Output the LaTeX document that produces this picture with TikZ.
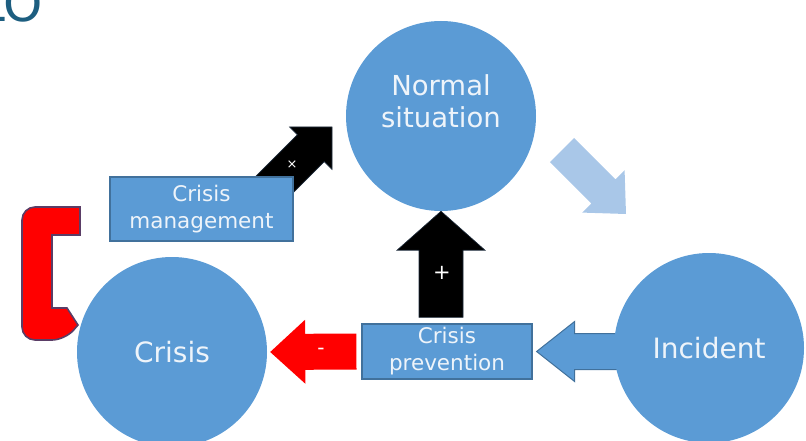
\documentclass[tikz,border=0pt]{standalone}
\usepackage{fontspec}
\setmainfont{DejaVu Sans}
\usetikzlibrary{calc,backgrounds}

\definecolor{bubbleblue}{HTML}{5B9BD5}
\definecolor{boxline}{HTML}{41719C}
\definecolor{paleblue}{HTML}{A9C7E8}
\definecolor{titleblue}{HTML}{1D5E80}
\definecolor{bracketline}{HTML}{5A3D66}
\definecolor{arrowedge}{HTML}{1F2D3D}
\definecolor{textwhite}{HTML}{EEF4FA}

% block arrow: style, tail, tip, half shaft, half head, head length
\newcommand{\blockarrow}[6]{%
  \coordinate (ba-base) at ($(#3)!#6!(#2)$);
  \filldraw[#1] ($(#2)!#4!90:(#3)$) -- ($(ba-base)!#4!90:(#3)$) -- ($(ba-base)!#5!90:(#3)$)
    -- (#3) -- ($(ba-base)!#5!-90:(#3)$) -- ($(ba-base)!#4!-90:(#3)$) -- ($(#2)!#4!-90:(#3)$) -- cycle;
}

\begin{document}
\begin{tikzpicture}[x=1pt,y=-1pt,
  bubble/.style={circle, fill=bubbleblue, minimum size=190pt, inner sep=0pt, text=textwhite, font=\fontsize{28}{32}\selectfont},
  bubbletext/.style={text=textwhite, align=center, inner sep=0pt, font=\fontsize{27.5}{32}\selectfont},
  box/.style={rectangle, fill=bubbleblue, draw=boxline, line width=1.2pt, inner sep=0pt, text=textwhite, align=center, font=\fontsize{21.5}{27}\selectfont},
  sign/.style={text=white, inner sep=0pt}]
\useasboundingbox (0,0) rectangle (806,441);
\node[text=titleblue, anchor=base east, inner sep=0pt, font=\fontsize{50}{50}\selectfont] (title) at (43,22) {LO}; %cut-off heading
\node[bubble] (normal) at (441,116) {}; %top circle
\node[bubbletext] (normaltext) at ([yshift=15pt]normal.center) {Normal\\situation};
\node[bubble] (crisis) at (172,352) {Crisis}; %left circle
\node[bubble] (incident) at (709,348) {Incident}; %right circle
\node[box, minimum width=183pt, minimum height=64pt] (management) at (201.5,209) {Crisis\\management};
\node[box, minimum width=170pt, minimum height=55pt] (prevention) at (447,351.5) {Crisis\\prevention};
% ends of the block arrows
\coordinate (uptail) at ($(normal.south |- prevention.north)+(0,-6)$);
\coordinate (redtail) at ($(prevention.west)+(-5,0)$);
\coordinate (redtip) at ($(crisis.east)+(3,0)$);
\coordinate (bluetip) at ($(prevention.east)+(4,0)$);
\coordinate (bluetail) at ($(incident.west |- bluetip)+(8,0)$);
\coordinate (mgmttail) at (258,201);
\coordinate (mgmttip) at (332,127);
\coordinate (paletail) at (562,150);
\coordinate (paletip) at (626,214);
\begin{pgfonlayer}{background}
\blockarrow{fill=black, draw=arrowedge, line width=0.6pt}{uptail}{normal.south}{22pt}{44pt}{39pt} %up arrow
\blockarrow{fill=black, draw=arrowedge, line width=0.6pt}{mgmttail}{mgmttip}{19pt}{30pt}{30pt} %diagonal arrow
\blockarrow{fill=paleblue, draw=none}{paletail}{paletip}{17pt}{30pt}{32pt} %pale arrow
\blockarrow{fill=bubbleblue, draw=boxline, line width=1pt}{bluetail}{bluetip}{18pt}{30pt}{38pt} %blue arrow
\blockarrow{fill=red, draw=none}{redtail}{redtip}{18pt}{32pt}{35pt} %red arrow
\filldraw[fill=red, draw=bracketline, line width=1.6pt, rounded corners=13pt] (80,207) -- (22,207) -- (22,340) -- (65,340) [sharp corners] -- (78,325) -- (67,308) -- (52,308) -- (52,235) -- (80,235) -- cycle; %red bracket
\end{pgfonlayer}
\node[sign, font=\fontsize{21}{21}\selectfont] (plus) at (442,273) {+};
\node[sign, font=\fontsize{20}{20}\selectfont] (minus) at (321,351) {-};
\node[sign, font=\fontsize{13}{13}\selectfont] (times) at (292,165) {×};
\end{tikzpicture}
\end{document}
